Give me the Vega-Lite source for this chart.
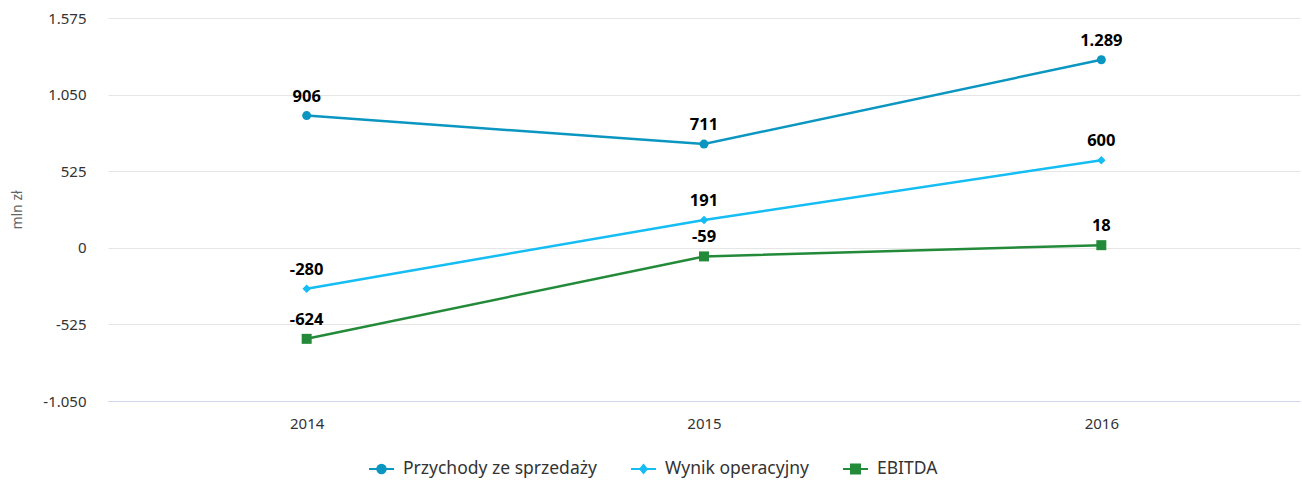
{
  "$schema": "https://vega.github.io/schema/vega-lite/v6.json",
  "width": 1192,
  "height": 383,
  "autosize": {"type": "none"},
  "padding": {"left": 108, "top": 18, "right": 2, "bottom": 79},
  "background": "#ffffff",
  "data": {
    "values": [
      {"year": "2014", "series": "Przychody ze sprzedaży", "value": 906},
      {"year": "2015", "series": "Przychody ze sprzedaży", "value": 711},
      {"year": "2016", "series": "Przychody ze sprzedaży", "value": 1289},
      {"year": "2014", "series": "Wynik operacyjny", "value": -280},
      {"year": "2015", "series": "Wynik operacyjny", "value": 191},
      {"year": "2016", "series": "Wynik operacyjny", "value": 600},
      {"year": "2014", "series": "EBITDA", "value": -624},
      {"year": "2015", "series": "EBITDA", "value": -59},
      {"year": "2016", "series": "EBITDA", "value": 18}
    ]
  },
  "encoding": {
    "x": {
      "field": "year", "type": "ordinal",
      "scale": {"type": "point", "padding": 0.5},
      "axis": {"title": null, "labelAngle": 0, "ticks": false, "labelPadding": 15, "labelFontSize": 15, "labelColor": "#333333", "labelFont": "Noto Sans", "domainColor": "#ccd6eb", "domainWidth": 1, "grid": false, "zindex": 1}
    },
    "y": {
      "field": "value", "type": "quantitative",
      "scale": {"domain": [-1050, 1575], "nice": false, "zero": false},
      "axis": {"title": "mln zł", "values": [-1050, -525, 0, 525, 1050, 1575], "format": ",d", "domain": false, "ticks": false, "labelPadding": 22, "labelFontSize": 15, "labelColor": "#333333", "labelFont": "Noto Sans", "gridColor": "#e6e6e6", "gridWidth": 1, "titleFont": "Noto Sans", "titleFontSize": 14, "titleFontWeight": "normal", "titleColor": "#666666", "titlePadding": 18}
    }
  },
  "layer": [
    {
      "mark": {"type": "line", "strokeWidth": 2.5},
      "encoding": {
        "color": {
          "field": "series", "type": "nominal",
          "scale": {"domain": ["Przychody ze sprzedaży", "Wynik operacyjny", "EBITDA"], "range": ["#0a96c0", "#14bdf3", "#238a3a"]},
          "legend": {
            "title": null, "orient": "none", "direction": "horizontal", "columns": 3,
            "legendX": 260, "legendY": 437.5, "padding": 0,
            "symbolSize": 625, "symbolOpacity": 1, "symbolStrokeWidth": 2, "columnPadding": 30, "labelOffset": 8, "labelLimit": 0,
            "labelFont": "Noto Sans", "labelFontSize": 17.5, "labelColor": "#333333",
            "encode": {
              "symbols": {
                "update": {
                  "shape": {"signal": "datum.value === 'EBITDA' ? 'M-1,0L1,0M-0.36,-0.36L0.36,-0.36L0.36,0.36L-0.36,0.36Z' : datum.value === 'Wynik operacyjny' ? 'M-1,0L1,0M0,-0.32L0.26,0L0,0.32L-0.26,0Z' : 'M-1,0L1,0M-0.34,0A0.34,0.34,0,1,0,0.34,0A0.34,0.34,0,1,0,-0.34,0Z'"},
                  "fill": {"scale": "color", "field": "value"},
                  "stroke": {"scale": "color", "field": "value"},
                  "strokeWidth": {"value": 2},
                  "fillOpacity": {"value": 1},
                  "strokeOpacity": {"value": 1}
                }
              }
            }
          }
        }
      }
    },
    {
      "transform": [{"filter": "datum.series === 'Przychody ze sprzedaży'"}],
      "mark": {"type": "point", "filled": true, "opacity": 1, "shape": "circle", "size": 81},
      "encoding": {"color": {"field": "series", "type": "nominal", "legend": null}}
    },
    {
      "transform": [{"filter": "datum.series === 'Wynik operacyjny'"}],
      "mark": {"type": "point", "filled": true, "opacity": 1, "shape": "diamond", "size": 72},
      "encoding": {"color": {"field": "series", "type": "nominal", "legend": null}}
    },
    {
      "transform": [{"filter": "datum.series === 'EBITDA'"}],
      "mark": {"type": "point", "filled": true, "opacity": 1, "shape": "square", "size": 100},
      "encoding": {"color": {"field": "series", "type": "nominal", "legend": null}}
    },
    {
      "mark": {"type": "text", "dy": -14, "baseline": "alphabetic", "font": "Noto Sans", "fontSize": 16.5, "fontWeight": "bold", "color": "#000000"},
      "encoding": {
        "text": {"field": "value", "type": "quantitative", "format": ",d"}
      }
    }
  ],
  "config": {
    "locale": {"number": {"decimal": ",", "thousands": ".", "grouping": [3], "currency": ["", " zł"], "minus": "-"}},
    "view": {"stroke": null},
    "axis": {"gridColor": "#e6e6e6"}
  }
}
